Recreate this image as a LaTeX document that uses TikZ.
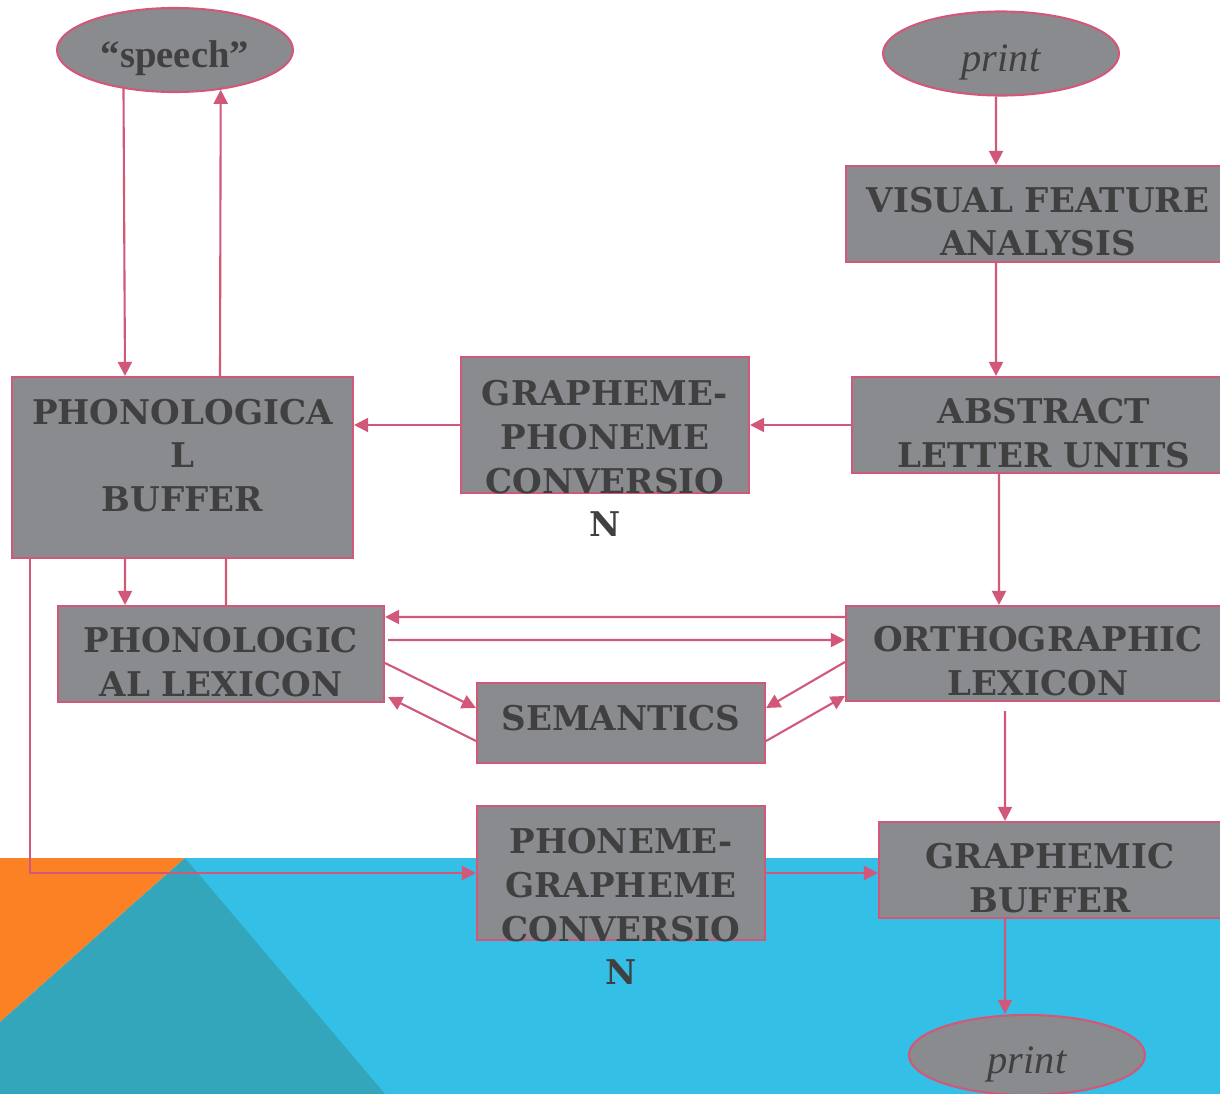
\documentclass[tikz,border=0pt]{standalone}
\usepackage{fontspec}
\setmainfont{Liberation Serif}
\newfontfamily\boxfont{DejaVu Serif}
\usetikzlibrary{shapes.geometric, arrows.meta}
\definecolor{boxgray}{HTML}{8A8B8F}
\definecolor{linkpink}{HTML}{D2587A}
\definecolor{inkgray}{HTML}{404040}
\definecolor{bgorange}{HTML}{FC8124}
\definecolor{bgblue}{HTML}{33BFE6}
\definecolor{bgteal}{HTML}{33A6BB}
\tikzset{
  stage/.style={draw=linkpink, fill=boxgray, line width=0.6pt, inner sep=0pt},
  stagetext/.style={text=inkgray, align=center, inner sep=0pt,
    font=\boxfont\bfseries\fontsize{9.7}{12.4}\selectfont},
  ending/.style={ellipse, draw=linkpink, fill=boxgray, line width=0.6pt,
    minimum width=2.36cm, minimum height=0.84cm, inner sep=0pt},
  endtext/.style={text=inkgray, inner sep=0pt, font=\itshape\fontsize{11.5}{13}\selectfont},
  link/.style={draw=linkpink, line width=0.6pt, -{Triangle[width=4pt, length=4pt]}},
}
\begin{document}
\begin{tikzpicture}
  \useasboundingbox (0,0) rectangle (12.2,-10.94);
  \clip (0,0) rectangle (12.2,-10.94);
  \fill[bgorange] (0,-8.58) -- (1.85,-8.58) -- (0,-10.22) -- cycle;
  \fill[bgblue] (1.85,-8.58) rectangle (12.2,-10.94);
  \fill[bgteal] (1.85,-8.58) -- (0,-10.22) -- (0,-10.94) -- (3.85,-10.94) -- cycle;

  \node[ending] (speech) at (1.75,-0.50) {};
  \node[ending] (printTop) at (10.01,-0.535) {};
  \node[ending, minimum height=0.80cm] (printBot) at (10.27,-10.55) {};
  \node[endtext, font=\bfseries\fontsize{11}{13}\selectfont] (speechLabel) at ([yshift=-0.8mm]speech.center) {``speech''};
  \node[endtext] (printTopLabel) at ([yshift=-0.9mm]printTop.center) {print};
  \node[endtext] (printBotLabel) at ([yshift=-0.9mm]printBot.center) {print};

  \node[stage, minimum width=3.84cm, minimum height=0.96cm] (visual) at (10.38,-2.14) {};
  \node[stage, minimum width=3.84cm, minimum height=0.96cm] (abstract) at (10.44,-4.25) {};
  \node[stage, minimum width=2.88cm, minimum height=1.36cm] (gpc) at (6.05,-4.25) {};
  \node[stage, minimum width=3.41cm, minimum height=1.81cm] (buffer) at (1.825,-4.675) {};
  \node[stage, minimum width=3.26cm, minimum height=0.96cm] (phonlex) at (2.21,-6.54) {};
  \node[stage, minimum width=2.88cm, minimum height=0.80cm] (semantics) at (6.21,-7.23) {};
  \node[stage, minimum width=3.84cm, minimum height=0.95cm] (ortho) at (10.38,-6.535) {};
  \node[stage, minimum width=2.88cm, minimum height=1.34cm] (pgc) at (6.21,-8.73) {};
  \node[stage, minimum width=3.42cm, minimum height=0.96cm] (graphemic) at (10.50,-8.70) {};

  \node[stagetext] (visualLabel) at ([yshift=-0.75mm]visual.center) {VISUAL FEATURE\\ANALYSIS};
  \node[stagetext] (abstractLabel) at ([yshift=-0.8mm]abstract.center) {ABSTRACT\\LETTER UNITS};
  \node[stagetext, anchor=north] (gpcLabel) at ([yshift=-2.4mm]gpc.north) {GRAPHEME-\\PHONEME\\CONVERSIO\\N};
  \node[stagetext] (bufferLabel) at ([yshift=1.2mm]buffer.center) {PHONOLOGICA\\L\\BUFFER};
  \node[stagetext] (phonlexLabel) at ([yshift=-0.8mm]phonlex.center) {PHONOLOGIC\\AL LEXICON};
  \node[stagetext] (semanticsLabel) at ([yshift=0.5mm]semantics.center) {SEMANTICS};
  \node[stagetext] (orthoLabel) at ([yshift=-0.75mm]ortho.center) {ORTHOGRAPHIC\\LEXICON};
  \node[stagetext, anchor=north] (pgcLabel) at ([yshift=-2.3mm]pgc.north) {PHONEME-\\GRAPHEME\\CONVERSIO\\N};
  \node[stagetext] (graphemicLabel) at ([yshift=-0.8mm]graphemic.center) {GRAPHEMIC\\BUFFER};

  \draw[link] (speech.-143) -- ([xshift=-5.75mm]buffer.north);
  \draw[link] ([xshift=3.75mm]buffer.north) -- (speech.-41);
  \draw[link] ([xshift=-0.5mm]printTop.south) -- ([xshift=-4.2mm]visual.north);
  \draw[link] ([xshift=-4.2mm]visual.south) -- ([xshift=-4.8mm]abstract.north);
  \draw[link] (abstract.west) -- (gpc.east);
  \draw[link] (gpc.west) -- (gpc.west -| buffer.east);
  \draw[link] ([xshift=-4.5mm]abstract.south) -- ([xshift=-3.9mm]ortho.north);
  \draw[link] ([xshift=-5.75mm]buffer.south) -- ([xshift=-9.6mm]phonlex.north);
  \draw[draw=linkpink, line width=0.6pt] ([xshift=0.5mm]phonlex.north) -- ([xshift=4.35mm]buffer.south);
  \draw[link] ([yshift=3.65mm]ortho.west) -- ([yshift=3.7mm]phonlex.east);
  \draw[link] ([xshift=0.3mm,yshift=1.4mm]phonlex.east) -- ([yshift=1.35mm]ortho.west);
  \draw[link] ([yshift=-0.9mm]phonlex.east) -- ([yshift=1.5mm]semantics.west);
  \draw[link] ([yshift=-1.8mm]semantics.west) -- ([xshift=0.3mm,yshift=-4.3mm]phonlex.east);
  \draw[link] ([yshift=-0.85mm]ortho.west) -- ([yshift=1.5mm]semantics.east);
  \draw[link] ([yshift=-1.8mm]semantics.east) -- ([yshift=-4.25mm]ortho.west);
  \draw[link] ([xshift=-3.3mm,yshift=-0.9mm]ortho.south) -- ([xshift=-4.5mm]graphemic.north);
  \draw[link] ([xshift=-15.25mm]buffer.south) |- (pgc.west);
  \draw[link] (pgc.east) -- (pgc.east -| graphemic.west);
  \draw[link] ([xshift=-4.5mm]graphemic.south) -- ([xshift=-2.2mm]printBot.north);
\end{tikzpicture}
\end{document}
